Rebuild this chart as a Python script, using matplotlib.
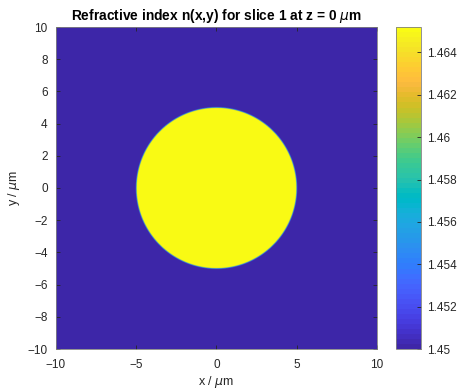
import numpy as np
import matplotlib
matplotlib.use("Agg")
import matplotlib.pyplot as plt
from matplotlib.colors import ListedColormap

# ---- data ----
x_range = [-10, 10]
y_range = [-10, 10]
core_radius = 5.0
n_clad = 1.45
n_core = 1.4652
grid_points = 801
cbar_ticks = [1.45, 1.452, 1.454, 1.456, 1.458, 1.46, 1.462, 1.464]
cbar_labels = ['1.45', '1.452', '1.454', '1.456', '1.458', '1.46', '1.462', '1.464']
x_ticks = [-10, -5, 0, 5, 10]
y_ticks = [-10, -8, -6, -4, -2, 0, 2, 4, 6, 8, 10]

# ---- parula colormap ----
parula = [
[0.2422,0.1504,0.6603],[0.2504,0.1650,0.7076],[0.2578,0.1818,0.7511],[0.2647,0.1978,0.7952],
[0.2706,0.2147,0.8364],[0.2751,0.2342,0.8710],[0.2783,0.2559,0.8991],[0.2803,0.2782,0.9221],
[0.2813,0.3006,0.9414],[0.2810,0.3228,0.9579],[0.2795,0.3447,0.9717],[0.2760,0.3667,0.9829],
[0.2699,0.3892,0.9906],[0.2602,0.4123,0.9952],[0.2440,0.4358,0.9988],[0.2206,0.4603,0.9973],
[0.1963,0.4847,0.9892],[0.1834,0.5074,0.9798],[0.1786,0.5289,0.9682],[0.1764,0.5499,0.9520],
[0.1687,0.5703,0.9359],[0.1540,0.5902,0.9218],[0.1460,0.6091,0.9079],[0.1380,0.6276,0.8973],
[0.1248,0.6459,0.8883],[0.1113,0.6635,0.8763],[0.0952,0.6798,0.8598],[0.0689,0.6948,0.8394],
[0.0297,0.7082,0.8163],[0.0036,0.7203,0.7917],[0.0067,0.7312,0.7660],[0.0433,0.7411,0.7394],
[0.0964,0.7500,0.7120],[0.1408,0.7584,0.6842],[0.1717,0.7670,0.6554],[0.1938,0.7758,0.6251],
[0.2161,0.7843,0.5923],[0.2470,0.7918,0.5567],[0.2906,0.7973,0.5188],[0.3406,0.8008,0.4789],
[0.3909,0.8029,0.4354],[0.4456,0.8024,0.3909],[0.5044,0.7993,0.3480],[0.5616,0.7942,0.3045],
[0.6174,0.7876,0.2612],[0.6720,0.7793,0.2227],[0.7242,0.7698,0.1910],[0.7738,0.7598,0.1646],
[0.8203,0.7498,0.1535],[0.8634,0.7406,0.1596],[0.9035,0.7330,0.1774],[0.9393,0.7288,0.2100],
[0.9728,0.7298,0.2394],[0.9956,0.7434,0.2371],[0.9970,0.7659,0.2199],[0.9952,0.7893,0.2028],
[0.9892,0.8136,0.1885],[0.9786,0.8386,0.1766],[0.9676,0.8639,0.1643],[0.9610,0.8890,0.1537],
[0.9597,0.9135,0.1423],[0.9628,0.9373,0.1265],[0.9691,0.9606,0.1064],[0.9769,0.9839,0.0805]]
cmap = ListedColormap(parula)

# ---- build index map ----
xs = np.linspace(x_range[0], x_range[1], grid_points)
ys = np.linspace(y_range[0], y_range[1], grid_points)
X, Y = np.meshgrid(xs, ys)
R = np.sqrt(X**2 + Y**2)
edge_width = 0.08
frac = np.clip((core_radius - R) / edge_width + 0.5, 0, 1)
N = n_clad + (n_core - n_clad) * frac

plt.rcParams['font.family'] = ['Liberation Sans', 'DejaVu Sans']
plt.rcParams['mathtext.fontset'] = 'dejavusans'

W, H = 464, 392
fig = plt.figure(figsize=(W / 100, H / 100), dpi=100)
ax = fig.add_axes([56 / W, (H - 349) / H, (377 - 56) / W, (349 - 27) / H])
cax = fig.add_axes([396 / W, (H - 349) / H, (421 - 396) / W, (349 - 27) / H])

dark = (0.15, 0.15, 0.15)
im = ax.imshow(N, extent=[x_range[0], x_range[1], y_range[0], y_range[1]],
               origin='lower', cmap=cmap, vmin=n_clad, vmax=n_core,
               interpolation='antialiased', aspect='auto')
ax.set_xlim(x_range)
ax.set_ylim(y_range)
ax.set_xticks(x_ticks)
ax.set_yticks(y_ticks)
ax.tick_params(direction='in', top=True, right=True, length=3, width=0.6,
               labelsize=8.5, colors=dark)
ax.tick_params(axis='x', pad=7)
ax.tick_params(axis='y', pad=6)
for s in ax.spines.values():
    s.set_color((0.5, 0.5, 0.5))
    s.set_linewidth(0.6)
ax.set_xlabel(r'x / $\mu$m', fontsize=9, color=dark, labelpad=2)
ax.set_ylabel(r'y / $\mu$m', fontsize=9, color=dark, labelpad=4)
ax.set_title(r'Refractive index n(x,y) for slice 1 at z = 0 $\mu$m',
             fontsize=9.9, fontweight='bold', color='black', pad=5)

cb = fig.colorbar(im, cax=cax)
cb.set_ticks(cbar_ticks)
cb.set_ticklabels(cbar_labels)
cax.tick_params(direction='in', length=3, width=0.6, labelsize=8.5, colors=dark, pad=4)
cb.outline.set_edgecolor((0.5, 0.5, 0.5))
cb.outline.set_linewidth(0.6)

fig.savefig('out.png', dpi=100)
